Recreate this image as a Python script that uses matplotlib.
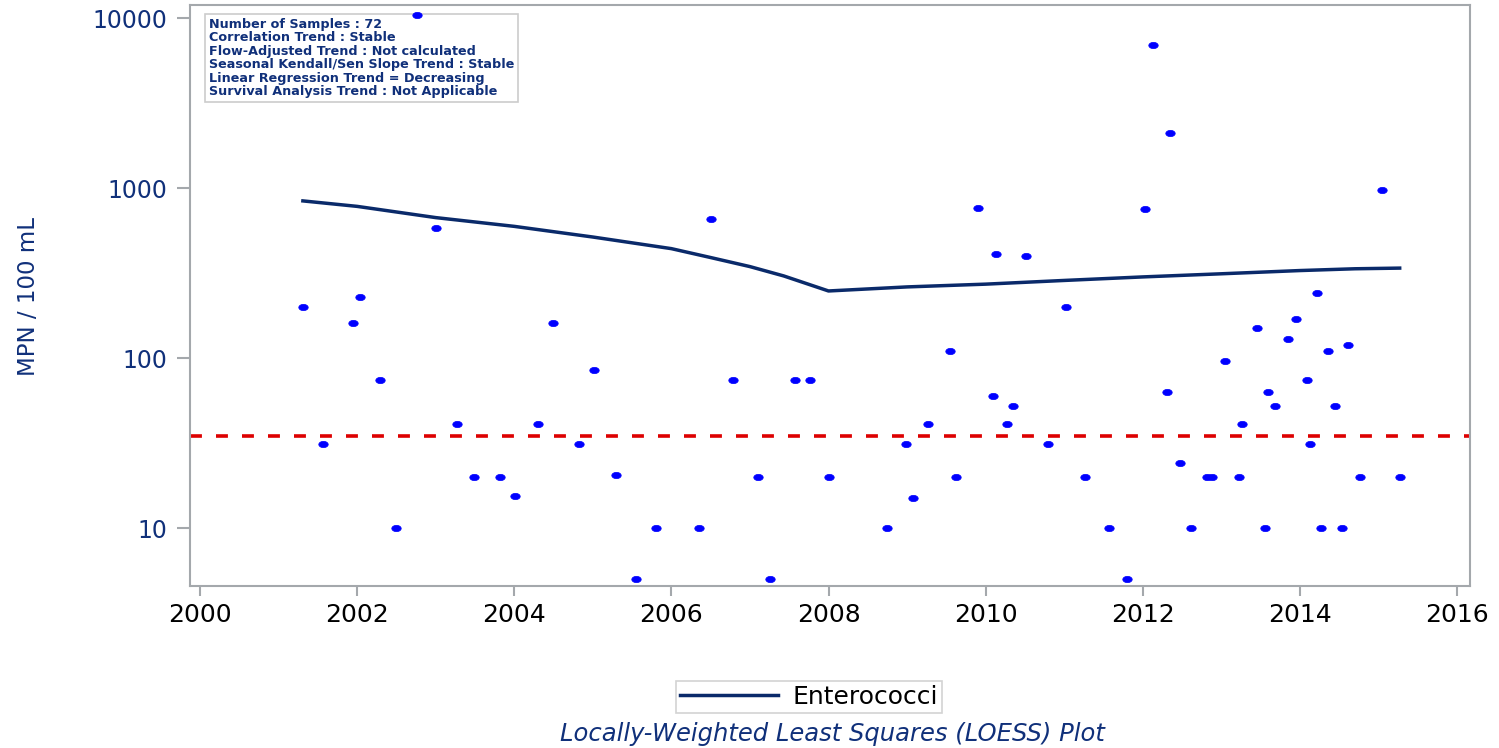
import numpy as np
import matplotlib
matplotlib.use("Agg")
from matplotlib import pyplot as plt
from matplotlib.path import Path

# sample dates (decimal year) and Enterococci values, MPN / 100 mL
sample_year = [
    2001.31, 2001.57, 2001.95, 2002.04, 2002.29, 2002.49, 2002.76, 2003.01, 2003.27, 2003.49,
    2003.82, 2004.01, 2004.30, 2004.49, 2004.82, 2005.01, 2005.30, 2005.55, 2005.80, 2006.35,
    2006.51, 2006.78, 2007.10, 2007.26, 2007.57, 2007.77, 2008.01, 2008.75, 2008.99, 2009.07,
    2009.26, 2009.55, 2009.62, 2009.90, 2010.09, 2010.13, 2010.27, 2010.35, 2010.51, 2010.80,
    2011.02, 2011.26, 2011.57, 2011.80, 2012.03, 2012.13, 2012.31, 2012.35, 2012.47, 2012.62,
    2012.82, 2012.88, 2013.05, 2013.22, 2013.26, 2013.45, 2013.55, 2013.60, 2013.68, 2013.85,
    2013.95, 2014.09, 2014.13, 2014.22, 2014.27, 2014.36, 2014.45, 2014.53, 2014.61, 2014.77,
    2015.04, 2015.27,
]
sample_value = [
    200, 31, 160, 230, 74, 10, 10400, 580, 41, 20,
    20, 15.5, 41, 160, 31, 85, 20.5, 5, 10, 10,
    660, 74, 20, 5, 74, 74, 20, 10, 31, 15,
    41, 110, 20, 760, 60, 410, 41, 52, 400, 31,
    200, 20, 10, 5, 750, 6900, 63, 2100, 24, 10,
    20, 20, 96, 20, 41, 150, 10, 63, 52, 130,
    170, 74, 31, 240, 10, 110, 52, 10, 120, 20,
    980, 20,
]

# LOESS fit
loess_year = [2001.31, 2002.0, 2003.0, 2004.0, 2005.0, 2006.0, 2006.5, 2007.0, 2007.43,
              2008.0, 2009.0, 2010.0, 2011.0, 2012.0, 2013.0, 2014.0, 2014.7, 2015.27]
loess_value = [840, 780, 670, 595, 515, 440, 390, 345, 304,
               248, 262, 272, 286, 300, 313, 327, 335, 338]

standard = 35
x_ticks = [2000, 2002, 2004, 2006, 2008, 2010, 2012, 2014, 2016]
y_ticks = [10, 100, 1000, 10000]
info_lines = [
    "Number of Samples : 72",
    "Correlation Trend : Stable",
    "Flow-Adjusted Trend : Not calculated",
    "Seasonal Kendall/Sen Slope Trend : Stable",
    "Linear Regression Trend = Decreasing",
    "Survival Analysis Trend : Not Applicable",
]

navy = "#10307a"
line_navy = "#0a2a6a"
frame = "#a4a8ac"

plt.rcParams["font.family"] = ["DejaVu Sans"]

fig = plt.figure(figsize=(14.99, 7.48), dpi=100)
ax = fig.add_axes([190 / 1499, 1 - 586 / 748, 1280 / 1499, 581 / 748])

# wide dots like the stretched original
t = np.linspace(0, 2 * np.pi, 40)
dot = Path(np.column_stack([1.5 * np.cos(t), np.sin(t)]))

ax.axhline(standard, color="#dd0000", lw=2.6, ls=(0, (3.3, 3.9)), zorder=2)
ax.plot(loess_year, loess_value, color=line_navy, lw=2.5, zorder=3, label="Enterococci")
ax.plot(sample_year, sample_value, ls="none", marker=dot, ms=6.8, color="#0000ff",
        mec="#0000ff", mew=0.5, zorder=4, clip_on=False)

ax.set_yscale("log")
ax.set_ylim(4.56, 11930)
ax.set_xlim(1999.873, 2016.165)
ax.set_xticks(x_ticks)
ax.set_xticklabels([str(v) for v in x_ticks])
ax.set_yticks(y_ticks)
ax.set_yticklabels([str(v) for v in y_ticks])
ax.minorticks_off()

for s in ax.spines.values():
    s.set_color(frame)
    s.set_linewidth(1.5)
ax.tick_params(axis="x", colors=frame, labelcolor="black", length=7, width=1.5,
               pad=5, labelsize=18)
ax.tick_params(axis="y", colors=frame, labelcolor=navy, length=9.5, width=1.5,
               pad=7, labelsize=17)

fig.text(29 / 1499, 1 - 297 / 748, "MPN / 100 mL", rotation=90, color=navy,
         fontsize=16.5, ha="center", va="center")

ax.text(209 / 1499, 1 - 18 / 748, "\n".join(info_lines), transform=fig.transFigure,
        ha="left", va="top", fontsize=9.2, fontweight="bold", color=navy,
        linespacing=1.04, zorder=3,
        bbox=dict(boxstyle="square,pad=0.3", fc="white", ec="#cccccc", lw=1.2))

leg = fig.legend(loc="center", bbox_to_anchor=(809 / 1499, 1 - 697 / 748),
                 fontsize=18, frameon=True, fancybox=False, handlelength=3.9,
                 borderpad=0.15, handletextpad=0.6, borderaxespad=0)
leg.get_frame().set_edgecolor("#c8c8c8")
leg.get_frame().set_linewidth(1.2)

fig.text(832 / 1499, 1 - 734 / 748, "Locally-Weighted Least Squares (LOESS) Plot",
         color=navy, fontsize=17.5, style="italic", ha="center", va="center")

fig.savefig("out.png", dpi=100)
